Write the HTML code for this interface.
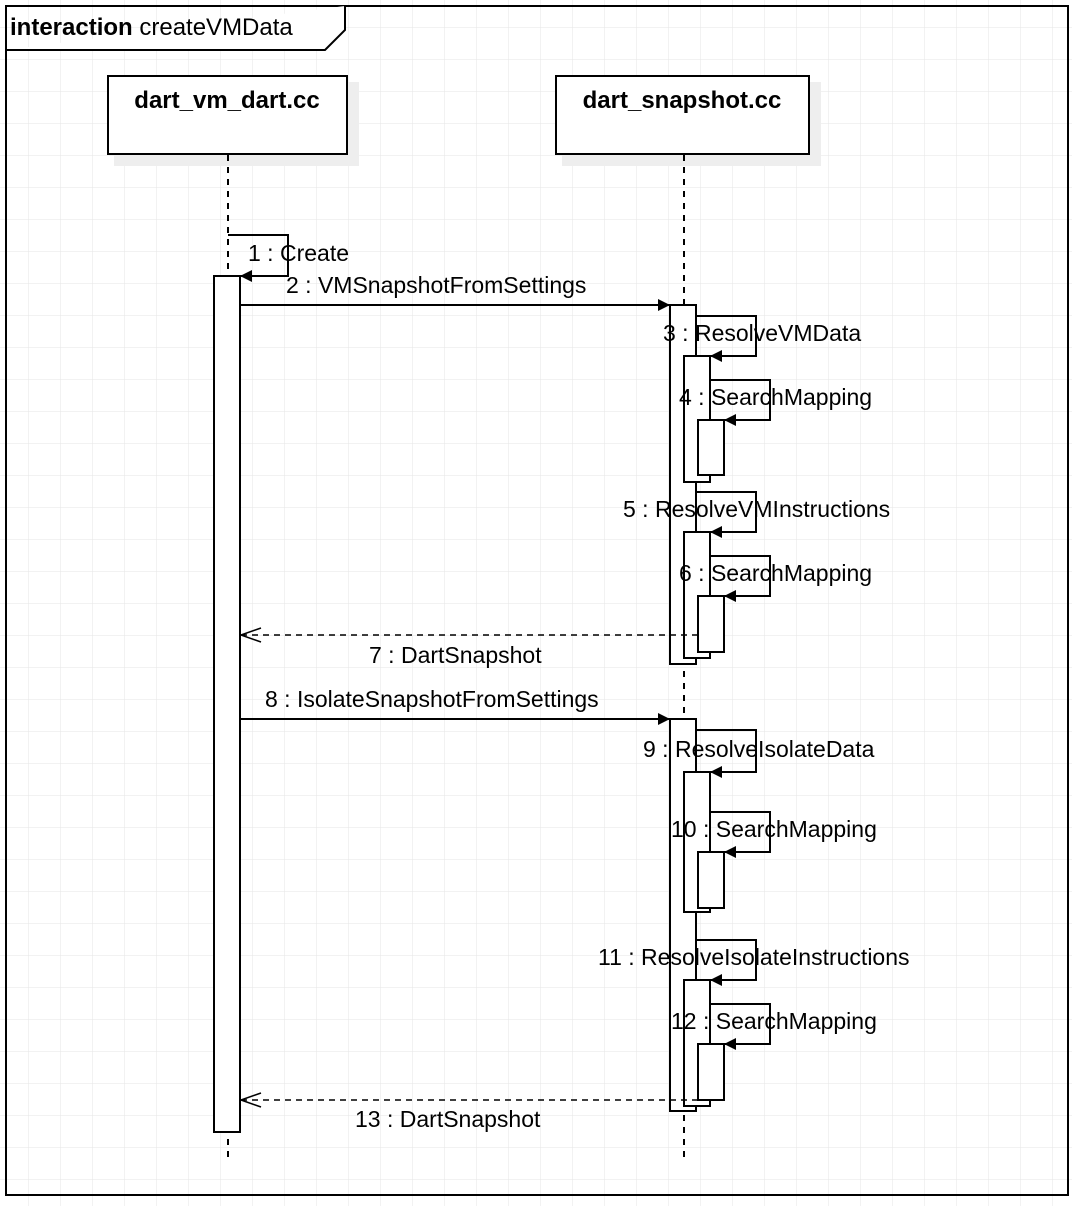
<!DOCTYPE html>
<html><head><meta charset="utf-8"><style>
html,body{margin:0;padding:0;background:#fff}
svg{display:block}
text{font-family:"Liberation Sans",Arial,sans-serif;font-size:23px;fill:#000}
</style></head><body>
<svg width="1072" height="1206" viewBox="0 0 1072 1206" xmlns="http://www.w3.org/2000/svg">
<defs>
<pattern id="g" width="32" height="32" patternUnits="userSpaceOnUse" x="-3" y="-4">
<path d="M32 0V32M0 32H32" stroke="#e6e6e6" stroke-width="1" fill="none"/>
</pattern>
<marker id="a" markerWidth="12" markerHeight="12" refX="11" refY="6" orient="auto" markerUnits="userSpaceOnUse" viewBox="0 0 12 12"><path d="M0,0L12,6L0,12z" fill="#000"/></marker>
<marker id="o" markerWidth="24" markerHeight="16" refX="22" refY="8" orient="auto" markerUnits="userSpaceOnUse"><path d="M2,1L22,8L2,15" fill="none" stroke="#000" stroke-width="1.5"/></marker>
</defs>
<rect width="1072" height="1206" fill="url(#g)"/>
<g fill="none" stroke="#000" stroke-width="2">
<rect x="6" y="6" width="1062" height="1189" fill="none"/>
<path d="M6,50H325L345,30V6" fill="#fff"/>
</g>
<text x="10" y="35" style="font-size:24px"><tspan font-weight="bold">interaction</tspan> createVMData</text>
<!-- lifeline heads -->
<rect x="114" y="82" width="245" height="84" fill="#eee"/>
<rect x="562" y="82" width="259" height="84" fill="#eee"/>
<rect x="108" y="76" width="239" height="78" fill="#fff" stroke="#000" stroke-width="2"/>
<rect x="556" y="76" width="253" height="78" fill="#fff" stroke="#000" stroke-width="2"/>
<text x="227" y="108" text-anchor="middle" font-weight="bold" style="font-size:24px">dart_vm_dart.cc</text>
<text x="682" y="108" text-anchor="middle" font-weight="bold" style="font-size:24px">dart_snapshot.cc</text>
<g stroke="#000" stroke-width="2" stroke-dasharray="6,6">
<line x1="228" y1="155" x2="228" y2="1160"/>
<line x1="684" y1="155" x2="684" y2="1160"/>
</g>
<g fill="#fff" stroke="#000" stroke-width="2">
<rect x="214" y="276" width="26" height="856"/>
<rect x="670" y="305" width="26" height="359"/>
<rect x="684" y="356" width="26" height="126"/>
<rect x="698" y="420" width="26" height="55"/>
<rect x="684" y="532" width="26" height="126"/>
<rect x="698" y="596" width="26" height="56"/>
<rect x="670" y="719" width="26" height="392"/>
<rect x="684" y="772" width="26" height="140"/>
<rect x="698" y="852" width="26" height="56"/>
<rect x="684" y="980" width="26" height="126"/>
<rect x="698" y="1044" width="26" height="56"/>
</g>
<g fill="none" stroke="#000" stroke-width="2" marker-end="url(#a)">
<path d="M228,235H288V276H241"/>
<path d="M240,305H669"/>
<path d="M696,316H756V356H711"/>
<path d="M710,380H770V420H725"/>
<path d="M696,492H756V532H711"/>
<path d="M710,556H770V596H725"/>
<path d="M240,719H669"/>
<path d="M696,730H756V772H711"/>
<path d="M710,812H770V852H725"/>
<path d="M696,940H756V980H711"/>
<path d="M710,1004H770V1044H725"/>
</g>
<g fill="none" stroke="#000" stroke-width="1.5" stroke-dasharray="6,5" marker-end="url(#o)">
<path d="M698,635H241"/>
<path d="M698,1100H241"/>
</g>
<text x="248" y="261">1 : Create</text>
<text x="286" y="293">2 : VMSnapshotFromSettings</text>
<text x="663" y="341">3 : ResolveVMData</text>
<text x="679" y="405">4 : SearchMapping</text>
<text x="623" y="517">5 : ResolveVMInstructions</text>
<text x="679" y="581">6 : SearchMapping</text>
<text x="369" y="663">7 : DartSnapshot</text>
<text x="265" y="707">8 : IsolateSnapshotFromSettings</text>
<text x="643" y="757">9 : ResolveIsolateData</text>
<text x="671" y="837">10 : SearchMapping</text>
<text x="598" y="965">11 : ResolveIsolateInstructions</text>
<text x="671" y="1029">12 : SearchMapping</text>
<text x="355" y="1127">13 : DartSnapshot</text>
</svg>
</body></html>
